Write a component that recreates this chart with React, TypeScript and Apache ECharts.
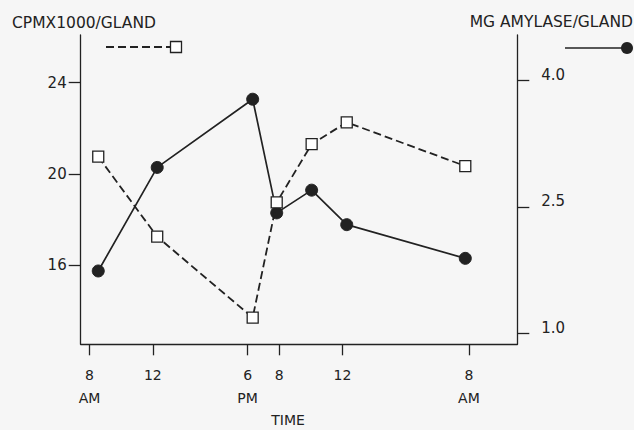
import React, { useEffect, useRef } from "react";
import * as echarts from "echarts";

// Time of sampling in hours from midnight of day 1 (8 AM = 8, 6 PM = 18, next 8 AM = 32)
const hours = [8.55, 12.28, 18.32, 19.84, 22.05, 24.27, 31.77];
// CPM x 1000 / gland (dashed, open squares, left axis)
const cpmValues = [20.75, 17.24, 13.69, 18.75, 21.3, 22.26, 20.34];
// mg amylase / gland (solid, filled circles, right axis)
const amylaseValues = [1.74, 2.97, 3.78, 2.43, 2.7, 2.29, 1.89];

const xTicks = [8, 12, 18, 20, 24, 32];
const xTickLabels = ["8\nAM", "12", "6\nPM", "8", "12", "8\nAM"];
const leftTicks = [16, 20, 24];
const rightTicks = [1.0, 2.5, 4.0];

const FONT = "DejaVu Sans";
const INK = "#222222";

export default function App() {
  const ref = useRef<HTMLDivElement>(null);
  useEffect(() => {
    if (!ref.current) return;
    const chart = echarts.init(ref.current, null, { renderer: "svg" });
    const cpmData = hours.map((h, i) => [h, cpmValues[i]]);
    const amyData = hours.map((h, i) => [h, amylaseValues[i]]);
    chart.setOption({
      animation: false,
      backgroundColor: "#f6f6f6",
      grid: { left: 80.7, right: 116.7, top: 35, bottom: 85.7 },
      xAxis: {
        type: "value",
        min: 7.44,
        max: 35.06,
        splitLine: { show: false },
        axisLine: { show: true, lineStyle: { color: INK, width: 1.3 } },
        axisTick: {
          show: true,
          customValues: xTicks,
          length: 11,
          lineStyle: { color: INK, width: 1.3 },
        },
        axisLabel: {
          customValues: xTicks,
          formatter: (v: number) => {
            const i = xTicks.indexOf(v);
            return i >= 0 ? xTickLabels[i] : "";
          },
          margin: 19,
          lineHeight: 23,
          verticalAlign: "top",
          fontFamily: FONT,
          fontSize: 14,
          color: INK,
        },
      },
      yAxis: [
        {
          type: "value",
          position: "left",
          min: 12.52,
          max: 26.09,
          splitLine: { show: false },
          axisLine: { show: true, lineStyle: { color: INK, width: 1.3 } },
          axisTick: {
            show: true,
            customValues: leftTicks,
            length: 12,
            lineStyle: { color: INK, width: 1.3 },
          },
          axisLabel: {
            customValues: leftTicks,
            margin: 14,
            fontFamily: FONT,
            fontSize: 15,
            color: INK,
          },
        },
        {
          type: "value",
          position: "right",
          min: 0.869,
          max: 4.543,
          splitLine: { show: false },
          axisLine: { show: true, lineStyle: { color: INK, width: 1.3 } },
          axisTick: {
            show: true,
            customValues: rightTicks,
            length: 12,
            lineStyle: { color: INK, width: 1.3 },
          },
          axisLabel: {
            customValues: rightTicks,
            formatter: (v: number) => v.toFixed(1),
            margin: 24,
            verticalAlign: "bottom",
            lineHeight: 11,
            fontFamily: FONT,
            fontSize: 15,
            color: INK,
          },
        },
      ],
      series: [
        {
          name: "Amylase",
          type: "line",
          yAxisIndex: 1,
          data: amyData,
          symbol: "circle",
          symbolSize: 12,
          lineStyle: { color: INK, width: 1.7, type: "solid" },
          itemStyle: { color: INK, borderColor: INK },
          z: 2,
        },
        {
          name: "CPM",
          type: "line",
          yAxisIndex: 0,
          data: cpmData,
          symbol: "rect",
          symbolSize: 11,
          lineStyle: { color: INK, width: 1.8, type: [8, 4] },
          itemStyle: { color: "#ffffff", borderColor: INK, borderWidth: 1.3 },
          z: 3,
        },
      ],
      graphic: [
        {
          type: "text",
          x: 12,
          y: 22.5,
          style: {
            text: "CPMX1000/GLAND",
            font: `15.5px "${FONT}"`,
            fill: INK,
            textVerticalAlign: "middle",
          },
        },
        {
          type: "text",
          x: 633,
          y: 22,
          style: {
            text: "MG AMYLASE/GLAND",
            font: `15.5px "${FONT}"`,
            fill: INK,
            textAlign: "right",
            textVerticalAlign: "middle",
          },
        },
        {
          type: "text",
          x: 288,
          y: 420,
          style: {
            text: "TIME",
            font: `14px "${FONT}"`,
            fill: INK,
            textAlign: "center",
            textVerticalAlign: "middle",
          },
        },
        {
          type: "line",
          shape: { x1: 106, y1: 47, x2: 170, y2: 47 },
          style: { stroke: INK, lineWidth: 1.8, lineDash: [8, 4] },
        },
        {
          type: "rect",
          shape: { x: 170.5, y: 41.5, width: 11, height: 11 },
          style: { fill: "#ffffff", stroke: INK, lineWidth: 1.3 },
        },
        {
          type: "line",
          shape: { x1: 565, y1: 48, x2: 622, y2: 48 },
          style: { stroke: INK, lineWidth: 1.7 },
        },
        {
          type: "circle",
          shape: { cx: 627, cy: 48, r: 6 },
          style: { fill: INK },
        },
      ],
    });
    return () => chart.dispose();
  }, []);
  return (
    <div
      ref={ref}
      style={{ position: "fixed", left: 0, top: 0, width: 634, height: 430 }}
    />
  );
}
